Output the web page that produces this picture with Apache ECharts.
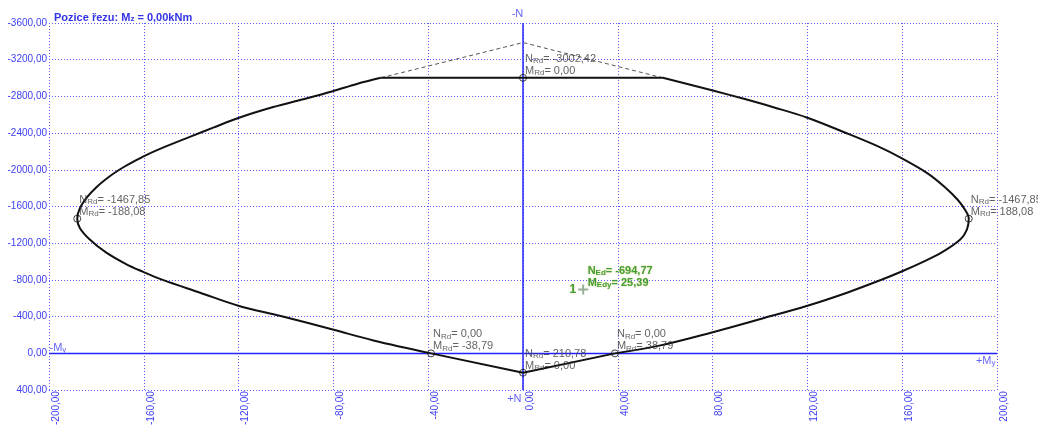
<!DOCTYPE html>
<html>
<head>
<meta charset="utf-8">
<script src="https://cdn.jsdelivr.net/npm/echarts@6/dist/echarts.min.js"></script>
<style>
  html, body { margin: 0; padding: 0; background: #fff; }
  #chart { width: 1038px; height: 428px; }
</style>
</head>
<body>
<div id="chart"></div>
<script>
// Axis ranges (bending moment My in kNm, axial force N in kN)
const mRange = [-200, 200];
const mStep = 40;
const nRange = [-3600, 400];
const nStep = 400;

// Compression cap of the envelope (straight)
const capM = [-60, 0, 59];
const capN = [-3002.42, -3002.42, -3002.42];

// Positive-moment branch, from the cap down to the N = 0 crossing
const rightArcM = [59, 80.1, 93.2, 106, 120, 135.5, 149.6, 159.9, 170.7, 177.7, 183.4, 186.5, 188.08,
  187.3, 184.5, 176.5, 169.5, 160, 151, 137, 120, 100.3, 80.1, 58, 38.79];
const rightArcN = [-3002.42, -2864, -2774, -2680, -2568, -2410, -2258, -2125, -1962, -1818, -1674, -1565, -1467.85,
  -1349, -1241, -1097, -1006, -895, -800, -664, -519, -375, -231, -87, 0];

// Tension tip between the two N = 0 crossings (straight)
const tipM = [38.79, 0, -38.79];
const tipN = [0, 210.78, 0];

// Negative-moment branch, from the N = 0 crossing up to the cap
const leftArcM = [-38.79, -63.1, -80.3, -101.8, -120.1, -136.5, -152, -160.5, -167.3, -175.8, -182.8, -187, -188.08,
  -187, -184, -180, -175.5, -170.5, -165, -159, -150.4, -140.6, -130.7, -120.1,
  -105.4, -92.7, -80.3, -70.1, -60];
const leftArcN = [0, -141, -260, -404, -519, -664, -801, -891, -970, -1097, -1241, -1367, -1467.85,
  -1580, -1700, -1810, -1908, -1998, -2080, -2161, -2258, -2359, -2460, -2565,
  -2684, -2770, -2857, -2936, -3002.42];

// Cut-off part above the compression limit (dashed)
const overM = [-60, 0, 59];
const overN = [-3002.42, -3387, -3002.42];

// Characteristic points of the envelope with their resistances
const limitM = [0, -188.08, 188.08, -38.79, 38.79, 0];
const limitN = [-3002.42, -1467.85, -1467.85, 0, 0, 210.78];

// Design load combination
const designM = [25.39];
const designN = [-694.77];
const designNames = ['1'];

const FONT = 'Liberation Sans, Arial, sans-serif';
const AXIS_BLUE = '#3c3cf5';
const GRID_BLUE = '#5b5bff';
const LINE_BLUE = '#2323ff';
const GREEN = '#188c18';

const fmt = v => (Math.abs(v) < 1e-9 ? 0 : v).toFixed(2).replace('.', ',');
const pairs = (xs, ys) => xs.map((x, i) => [x, ys[i]]);

const chart = echarts.init(document.getElementById('chart'), null, { renderer: 'canvas' });

const resRich = {
  t: { fontFamily: FONT, fontSize: 11, lineHeight: 12, color: '#3a3a3a' },
  s: { fontFamily: FONT, fontSize: 8, lineHeight: 7, verticalAlign: 'bottom', color: '#3a3a3a' }
};
const edRich = {
  t: { fontFamily: FONT, fontSize: 11, lineHeight: 12, fontWeight: 'bold', color: GREEN,
       textShadowColor: 'rgba(200,190,60,0.8)', textShadowBlur: 2 },
  s: { fontFamily: FONT, fontSize: 8, lineHeight: 7, verticalAlign: 'bottom', fontWeight: 'bold', color: GREEN,
       textShadowColor: 'rgba(200,190,60,0.8)', textShadowBlur: 2 }
};
const axRich = {
  t: { fontFamily: FONT, fontSize: 11, lineHeight: 12, color: AXIS_BLUE },
  s: { fontFamily: FONT, fontSize: 8, lineHeight: 7, verticalAlign: 'bottom', color: AXIS_BLUE }
};

const gridLineStyle = { type: [1, 2], color: GRID_BLUE, width: 1, opacity: 1 };
const envelopeStyle = { color: '#111', width: 2 };

const option = {
  animation: false,
  backgroundColor: '#ffffff',
  title: {
    text: 'Pozice řezu: M{s|z} = 0,00kNm',
    left: 49,
    top: 7,
    textStyle: {
      fontFamily: FONT, fontSize: 11, fontWeight: 'bold', color: '#3333e6',
      rich: {
        s: { fontFamily: FONT, fontSize: 8, fontWeight: 'bold', color: '#3333e6', lineHeight: 7, verticalAlign: 'bottom' }
      }
    }
  },
  grid: { left: 49, right: 41, top: 23, bottom: 36, containLabel: false },
  xAxis: {
    type: 'value',
    min: mRange[0], max: mRange[1], interval: mStep,
    axisLine: { show: false },
    axisTick: { show: false },
    axisLabel: {
      rotate: 90,
      margin: 1,
      verticalAlign: 'top',
      padding: [2, 0, 0, 0],
      color: AXIS_BLUE,
      fontFamily: FONT,
      fontSize: 10,
      formatter: v => fmt(v)
    },
    splitLine: { show: true, showMinLine: true, showMaxLine: true, lineStyle: gridLineStyle }
  },
  yAxis: {
    type: 'value',
    inverse: true,
    min: nRange[0], max: nRange[1], interval: nStep,
    axisLine: { show: false },
    axisTick: { show: false },
    axisLabel: {
      margin: 2,
      color: AXIS_BLUE,
      fontFamily: FONT,
      fontSize: 10,
      formatter: v => fmt(v)
    },
    splitLine: { show: true, showMinLine: true, showMaxLine: true, lineStyle: gridLineStyle }
  },
  series: [
    {
      // N = 0 axis line
      type: 'line', silent: true, symbol: 'none', z: 1,
      data: pairs(mRange, [0, 0]),
      lineStyle: { color: LINE_BLUE, width: 1.5 }
    },
    {
      // M = 0 axis line
      type: 'line', silent: true, symbol: 'none', z: 1,
      data: pairs([0, 0], nRange),
      lineStyle: { color: LINE_BLUE, width: 1.5 }
    },
    {
      type: 'line', silent: true, symbol: 'none', z: 2,
      data: pairs(overM, overN),
      lineStyle: { color: '#555', width: 1, type: [4, 3] }
    },
    {
      type: 'line', silent: true, symbol: 'none', z: 3,
      data: pairs(capM, capN), lineStyle: envelopeStyle
    },
    {
      type: 'line', silent: true, symbol: 'none', z: 3, smooth: 0.35,
      data: pairs(rightArcM, rightArcN), lineStyle: envelopeStyle
    },
    {
      type: 'line', silent: true, symbol: 'none', z: 3,
      data: pairs(tipM, tipN), lineStyle: envelopeStyle
    },
    {
      type: 'line', silent: true, symbol: 'none', z: 3, smooth: 0.35,
      data: pairs(leftArcM, leftArcN), lineStyle: envelopeStyle
    },
    {
      type: 'scatter', silent: true, z: 4,
      symbol: 'circle', symbolSize: 7,
      itemStyle: { color: 'rgba(255,255,255,0)', borderColor: '#111', borderWidth: 1 },
      data: pairs(limitM, limitN),
      label: {
        show: true,
        position: [6, 3],
        align: 'left',
        verticalAlign: 'bottom',
        rich: resRich,
        formatter: p => `{t|N}{s|Rd}{t|= ${fmt(p.value[1])}}\n{t|M}{s|Rd}{t|= ${fmt(p.value[0])}}`
      }
    },
    {
      // design point marker with its combination number
      type: 'scatter', silent: true, z: 5,
      symbol: 'path://M4,0H6V4H10V6H6V10H4V6H0V4H4Z',
      symbolSize: 10,
      itemStyle: { color: '#7f9a7f' },
      data: designM.map((m, i) => ({ name: designNames[i], value: [m, designN[i]] })),
      label: {
        show: true, position: 'left', distance: 2,
        fontFamily: FONT, fontSize: 12, fontWeight: 'bold', color: GREEN,
        textShadowColor: 'rgba(200,190,60,0.8)', textShadowBlur: 2,
        formatter: p => p.name
      }
    },
    {
      // design point values
      type: 'scatter', silent: true, z: 6,
      symbol: 'circle', symbolSize: 1,
      itemStyle: { color: 'rgba(0,0,0,0)' },
      data: pairs(designM, designN),
      label: {
        show: true,
        position: [5, 0],
        align: 'left',
        verticalAlign: 'bottom',
        rich: edRich,
        formatter: p => `{t|N}{s|Ed}{t|= ${fmt(p.value[1])}}\n{t|M}{s|Edy}{t|= ${fmt(p.value[0])}}`
      }
    },
    {
      // axis direction names
      type: 'scatter', silent: true, z: 6,
      symbol: 'circle', symbolSize: 1,
      itemStyle: { color: 'rgba(0,0,0,0)' },
      data: [
        { value: [0, nRange[0]], label: { formatter: '{t|-N}', align: 'center', verticalAlign: 'bottom', offset: [-5, -3] } },
        { value: [0, nRange[1]], label: { formatter: '{t|+N}', align: 'right', verticalAlign: 'top', offset: [-1, 3] } },
        { value: [mRange[0], 0], label: { formatter: '{t|-M}{s|y}', align: 'left', verticalAlign: 'bottom', offset: [1, 1] } },
        { value: [mRange[1], 0], label: { formatter: '{t|+M}{s|y}', align: 'right', verticalAlign: 'top', offset: [-1, 2] } }
      ],
      label: { show: true, position: [0, 0], rich: axRich }
    }
  ]
};

chart.setOption(option);
</script>
</body>
</html>
